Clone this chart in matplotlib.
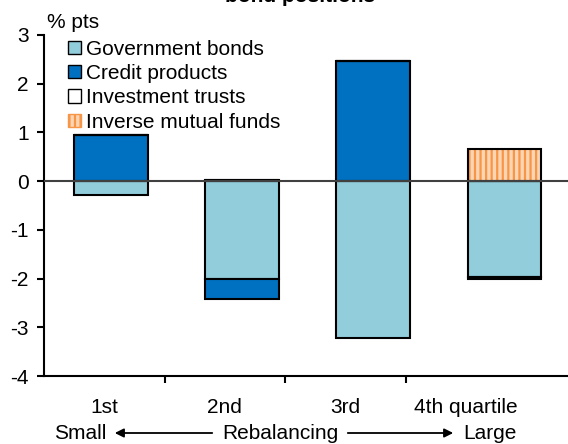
import numpy as np
import matplotlib.pyplot as plt
from matplotlib.patches import Patch, FancyArrowPatch

plt.rcParams['font.family'] = ['Liberation Sans', 'DejaVu Sans']
plt.rcParams['hatch.linewidth'] = 1.6

# data (% pts)
quartiles = ['1st', '2nd', '3rd', '4th quartile']
gov_bonds = [-0.28, -2.00, -3.22, -1.97]
credit = [0.95, -0.42, 2.47, 0.00]
inv_trusts = [0.00, 0.03, 0.00, -0.03]
inverse_funds = [0.00, 0.00, 0.00, 0.67]

c_gov = '#92CDDC'
c_credit = '#0070C0'
c_inv_fill = '#FCD5B4'
c_inv_hatch = '#F79646'
fs = 15

fig = plt.figure(figsize=(5.68, 4.44), dpi=100)
ax = fig.add_axes([44 / 568, 1 - 376 / 444, 524 / 568, (376 - 35) / 444])

# bars sit on their own grid, labels on category slots
xpos = 0.556 + np.arange(4) * 1.088
w = 0.61

def stack(values, base_pos, base_neg):
    bottoms = []
    for i, v in enumerate(values):
        if v >= 0:
            bottoms.append(base_pos[i])
            base_pos[i] += v
        else:
            bottoms.append(base_neg[i])
            base_neg[i] += v
    return bottoms

pos = [0.0] * 4
neg = [0.0] * 4
b_gov = stack(gov_bonds, pos, neg)
b_credit = stack(credit, pos, neg)
b_trust = stack(inv_trusts, pos, neg)
b_inv = stack(inverse_funds, pos, neg)

ax.bar(xpos, gov_bonds, w, bottom=b_gov, color=c_gov, edgecolor='black', lw=1.5, zorder=2)
ax.bar(xpos, credit, w, bottom=b_credit, color=c_credit, edgecolor='black', lw=1.5, zorder=2)
ax.bar(xpos, inv_trusts, w, bottom=b_trust, color='white', edgecolor='black', lw=1.5, zorder=2)
ax.bar(xpos, inverse_funds, w, bottom=b_inv, color=c_inv_fill, edgecolor=c_inv_hatch,
       hatch='|||', lw=0, zorder=2)
ax.bar(xpos, inverse_funds, w, bottom=b_inv, color='none', edgecolor='black', lw=1.5, zorder=3)

ax.axhline(0, color='#404040', lw=1.5, zorder=4)

ax.set_xlim(0, 524 / 120.5)
ax.set_ylim(-4, 3)
ax.set_yticks(range(-4, 4))
ax.set_yticklabels([str(v) for v in range(-4, 4)])
ax.set_xticks([1, 2, 3])
ax.set_xticklabels([])
ax.set_xticks([0.5, 1.5, 2.5, 3.5], minor=True)
ax.set_xticklabels(quartiles, minor=True)
ax.tick_params(axis='x', which='minor', length=0, pad=16, labelsize=fs)
ax.tick_params(axis='x', which='major', length=5, width=1.5, direction='out')
ax.tick_params(axis='y', length=5, width=1.5, direction='out', labelsize=fs, pad=6)
for s in ['top', 'right']:
    ax.spines[s].set_visible(False)
for s in ['left', 'bottom']:
    ax.spines[s].set_linewidth(1.5)

handles = [Patch(facecolor=c_gov, edgecolor='black'),
           Patch(facecolor=c_credit, edgecolor='black'),
           Patch(facecolor='white', edgecolor='black'),
           Patch(facecolor=c_inv_fill, edgecolor=c_inv_hatch, hatch='|||')]
labels = ['Government bonds', 'Credit products', 'Investment trusts', 'Inverse mutual funds']
ax.legend(handles, labels, loc='upper left', bbox_to_anchor=(24 / 524, 1 - 5 / 341),
          frameon=False, fontsize=fs, handlelength=0.6, handleheight=0.6,
          handletextpad=0.25, labelspacing=0.25, borderpad=0.0, borderaxespad=0)

fig.text(47 / 568, 1 - 22 / 444, '% pts', fontsize=fs, va='center')
fig.text(300 / 568, 1 - 2 / 444, 'bond positions', fontsize=fs, fontweight='bold',
         ha='center', va='baseline')

# bottom caption with arrows
yb = 1 - 433 / 444
fig.text(80 / 568, yb, 'Small', fontsize=fs, ha='center', va='center')
fig.text(280 / 568, yb, 'Rebalancing', fontsize=fs, ha='center', va='center')
fig.text(490 / 568, yb, 'Large', fontsize=fs, ha='center', va='center')
fig.patches.append(FancyArrowPatch(
    (215 / 568, yb), (112 / 568, yb), transform=fig.transFigure, arrowstyle='-|>',
    mutation_scale=13, color='black', lw=1.3))
fig.patches.append(FancyArrowPatch(
    (345 / 568, yb), (456 / 568, yb), transform=fig.transFigure, arrowstyle='-|>',
    mutation_scale=13, color='black', lw=1.3))

fig.savefig('out.png', dpi=100)
